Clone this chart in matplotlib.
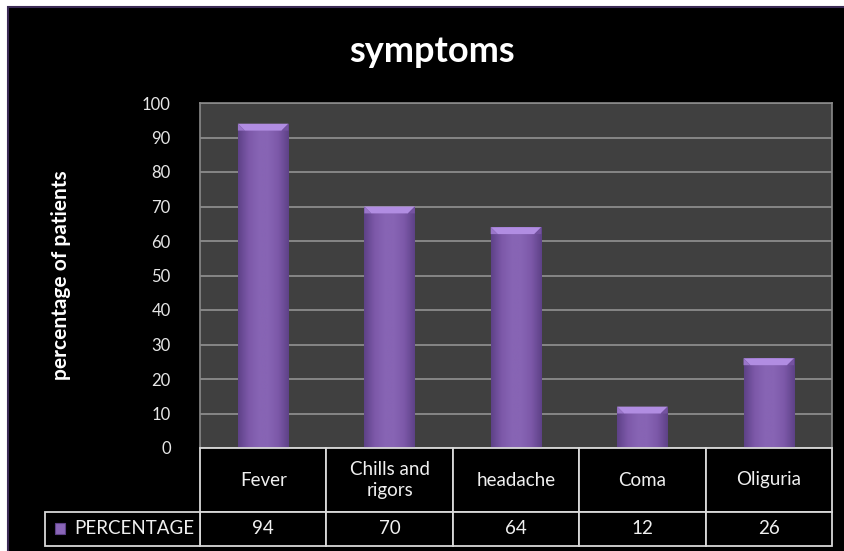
import numpy as np
import matplotlib.pyplot as plt
import matplotlib.transforms as mtransforms
from matplotlib.patches import Polygon, Rectangle
from matplotlib.colors import LinearSegmentedColormap

categories = ['Fever', 'Chills and\nrigors', 'headache', 'Coma', 'Oliguria']
percentage = [94, 70, 64, 12, 26]
series_name = 'PERCENTAGE'
yticks = [0, 10, 20, 30, 40, 50, 60, 70, 80, 90, 100]

W, H = 845, 551
plt.rcParams['font.family'] = ['Lato', 'DejaVu Sans']

fig = plt.figure(figsize=(W / 100, H / 100), dpi=100)
fig.patch.set_facecolor('white')

def fx(px):
    return px / W

def fy(py):
    return 1 - py / H

# black chart frame with thin purple edge (left and top only visible)
frame = Rectangle((fx(8), -0.05), 1.1, fy(7) + 0.05, transform=fig.transFigure,
                  facecolor='black', edgecolor='#3b2b55', linewidth=1.5, zorder=-1)
fig.patches.append(frame)

x0, x1, ytop, ybot = 200, 832, 103, 448
ax = fig.add_axes([fx(x0), fy(ybot), fx(x1 - x0), (ybot - ytop) / H])
ax.set_facecolor('#404040')
for s in ax.spines.values():
    s.set_color('#8a8a8a')
    s.set_linewidth(1.2)

ax.set_yticks(yticks)
ax.yaxis.grid(True, color='#8c8c8c', linewidth=1.3)
ax.set_axisbelow(True)
ax.tick_params(axis='y', length=0, pad=21, labelcolor='#e6e6e6', labelsize=12)
ax.tick_params(axis='x', length=0, labelbottom=False)

bar_w = 0.4
bars = ax.bar(range(len(categories)), percentage, width=bar_w,
              color='#8461b0', zorder=2)

# shaded bar body: darker towards the edges
grad = LinearSegmentedColormap.from_list(
    'bar', ['#5e4288', '#7c58a8', '#8764b4', '#8764b4', '#7c58a8', '#5e4288'])
g = np.linspace(0, 1, 64).reshape(1, -1)
bevel_h = 2.0
bevel_in = 0.055
for b, v in zip(bars, percentage):
    bx = b.get_x()
    bw = b.get_width()
    im = ax.imshow(g, cmap=grad, extent=[bx, bx + bw, 0, v], aspect='auto',
                   zorder=3, interpolation='bilinear')
    im.set_clip_path(b)
    # bevelled top
    top = Polygon([(bx, v), (bx + bw, v), (bx + bw - bevel_in, v - bevel_h),
                   (bx + bevel_in, v - bevel_h)], closed=True,
                  facecolor='#b18de2', edgecolor='none', zorder=4)
    ax.add_patch(top)
    left = Polygon([(bx, v), (bx + bevel_in, v - bevel_h), (bx, v - bevel_h)],
                   closed=True, facecolor='#9a76ca', edgecolor='none', zorder=4)
    right = Polygon([(bx + bw, v), (bx + bw - bevel_in, v - bevel_h),
                     (bx + bw, v - bevel_h)], closed=True,
                    facecolor='#7452a0', edgecolor='none', zorder=4)
    ax.add_patch(left)
    ax.add_patch(right)
ax.set_xlim(-0.5, len(categories) - 0.5)
ax.set_ylim(0, 100)

# data table under the plot: x in data units, y in figure units
tr = mtransforms.blended_transform_factory(ax.transData, fig.transFigure)
row_top, row_mid, row_bot = fy(448), fy(512), fy(546)
edge = '#d9d9d9'
tcol = '#f0f0f0'
for i, (cat, v) in enumerate(zip(categories, percentage)):
    for yb, yt, txt in [(row_mid, row_top, cat), (row_bot, row_mid, str(v))]:
        fig.patches.append(Rectangle((i - 0.5, yb), 1, yt - yb, transform=tr,
                                     facecolor='black', edgecolor=edge,
                                     linewidth=1.3, zorder=5))
        fig.text(i, (yb + yt) / 2, txt, transform=tr, ha='center', va='center',
                 color=tcol, fontsize=13.5, linespacing=1.3, zorder=6)

# row label cell with legend key
fig.patches.append(Rectangle((fx(45), row_bot), fx(x0 - 45), row_mid - row_bot,
                             transform=fig.transFigure, facecolor='black',
                             edgecolor=edge, linewidth=1.3, zorder=5))
fig.patches.append(Rectangle((fx(55), fy(534)), fx(10), 11 / H,
                             transform=fig.transFigure, facecolor='#8a66b8',
                             edgecolor='#5e4288', linewidth=0.8, zorder=6))
fig.text(fx(194), (row_bot + row_mid) / 2, series_name, ha='right', va='center',
         color=tcol, fontsize=13.5, zorder=6)

fig.text(fx(432), fy(51), 'symptoms', ha='center', va='center',
         fontsize=26, fontweight='bold', color='white')
fig.text(fx(61), fy(275), 'percentage of patients', ha='center', va='center',
         rotation=90, fontsize=15, fontweight='bold', color='white')

fig.savefig('out.png', dpi=100, facecolor=fig.get_facecolor())
